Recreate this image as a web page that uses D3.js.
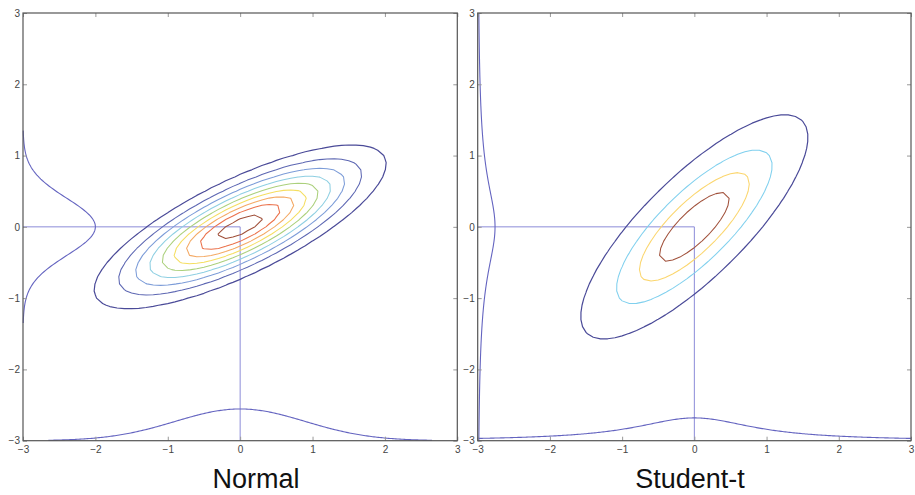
<!DOCTYPE html>
<html>
<head>
<meta charset="utf-8">
<script src="https://cdn.jsdelivr.net/npm/d3@7"></script>
<style>
  html, body { margin: 0; padding: 0; background: #fff; }
  svg { display: block; font-family: "Liberation Sans", Arial, Helvetica, sans-serif; }
</style>
</head>
<body>
<svg id="chart" width="915" height="495"></svg>
<script>
// Axis range and ticks shared by both panels
const axisDomain = [-3, 3];
const tickValues = [-3, -2, -1, 0, 1, 2, 3];
const panelTitles = ["Normal", "Student-t"];

// Bivariate Normal: covariance and contour levels (fraction of peak density)
const normalCov = [[0.9025, 0.395], [0.395, 0.2916]];
const normalLevels = [0.105, 0.21, 0.315, 0.42, 0.525, 0.63, 0.735, 0.84, 0.945];
const normalColors = ["#4a4a98", "#5c66b2", "#7c9cd8", "#8ecfe2", "#abd07c", "#f5de60", "#f4a964", "#eb724c", "#a0503a"];

// Bivariate Student-t: scale matrix, degrees of freedom, contour levels
const tCov = [[1.0, 0.8], [0.8, 1.0]];
const tDof = [2];
const tLevels = [0.2, 0.4, 0.6, 0.8];
const tColors = ["#4a4a98", "#80d0ee", "#fbd66e", "#a0503a"];

// Marginal curves: [shape, scale, peak height above the axis, start, end]
const normalMarginalX = ["gauss", 0.9, 0.445, -2.65, 2.65];
const normalMarginalY = ["gauss", 0.4, 1.0, -1.35, 1.35];
const tMarginalX = ["cauchy", 1.0, 0.32, -3, 3];
const tMarginalY = ["cauchy", 0.8, 0.24, -3, 3];

const gridStep = 0.1;

const svg = d3.select("#chart");

const panels = [
  { x0: 23, x1: 457.3, cov: normalCov, kind: "normal", levels: normalLevels, colors: normalColors,
    mx: normalMarginalX, my: normalMarginalY, title: panelTitles[0], titleX: 256 },
  { x0: 477.7, x1: 911, cov: tCov, kind: "t", levels: tLevels, colors: tColors,
    mx: tMarginalX, my: tMarginalY, title: panelTitles[1], titleX: 690 }
];
const yTop = 13, yBottom = 440.7;

function density(kind, cov, x, y) {
  const a = cov[0][0], b = cov[0][1], d = cov[1][1];
  const det = a * d - b * b;
  const q = (d * x * x - 2 * b * x * y + a * y * y) / det;
  if (kind === "normal") return Math.exp(-0.5 * q);
  const nu = tDof[0];
  return Math.pow(1 + q / nu, -(nu + 2) / 2);
}

function marginal(m, v) {
  const [shape, s, peak] = m;
  const z = v / s;
  return shape === "gauss" ? peak * Math.exp(-0.5 * z * z) : peak / (1 + z * z);
}

const fmt = d3.format("d");

panels.forEach(p => {
  const xs = d3.scaleLinear().domain(axisDomain).range([p.x0, p.x1]);
  const ys = d3.scaleLinear().domain(axisDomain).range([yBottom, yTop]);
  const g = svg.append("g");

  // guide lines from the axes to the mean
  g.append("path")
    .attr("d", d3.line()([[xs(-3), ys(0)], [xs(0), ys(0)], [xs(0), ys(-3)]]))
    .attr("fill", "none").attr("stroke", "#8c8cd8").attr("stroke-width", 1);

  // marginal densities along bottom and left axes
  const bx = d3.range(p.mx[3], p.mx[4] + 1e-9, 0.02).map(v => [v, -3 + marginal(p.mx, v)]);
  const ly = d3.range(p.my[3], p.my[4] + 1e-9, 0.02).map(v => [-3 + marginal(p.my, v), v]);
  const line = d3.line().x(d => xs(d[0])).y(d => ys(d[1]));
  [bx, ly].forEach(pts => {
    g.append("path").attr("d", line(pts))
      .attr("fill", "none").attr("stroke", "#6464c0").attr("stroke-width", 1.1);
  });

  // density on a grid and its contours
  const n = Math.round((axisDomain[1] - axisDomain[0]) / gridStep) + 1;
  const values = new Array(n * n);
  for (let j = 0; j < n; j++) {
    for (let i = 0; i < n; i++) {
      const x = axisDomain[0] + i * gridStep, y = axisDomain[0] + j * gridStep;
      values[j * n + i] = density(p.kind, p.cov, x, y);
    }
  }
  const contours = d3.contours().size([n, n]).thresholds(p.levels)(values);
  const proj = d3.geoTransform({
    point(cx, cy) {
      this.stream.point(xs(axisDomain[0] + (cx - 0.5) * gridStep), ys(axisDomain[0] + (cy - 0.5) * gridStep));
    }
  });
  const path = d3.geoPath(proj);
  g.selectAll(".c").data(contours).join("path")
    .attr("d", path)
    .attr("fill", "none")
    .attr("stroke", (d, i) => p.colors[i])
    .attr("stroke-width", (d, i) => i === 0 ? 1.2 : 1.05)
    .attr("stroke-linejoin", "round");

  // axes: ticks pointing inward on every side, labels on bottom and left
  const axStyle = sel => {
    sel.select(".domain").remove();
    sel.selectAll(".tick line").attr("stroke", "#999");
    sel.selectAll(".tick text").attr("fill", "#444").style("font-size", "10px");
  };
  g.append("g").attr("transform", `translate(0,${yBottom})`)
    .call(d3.axisBottom(xs).tickValues(tickValues).tickFormat(fmt).tickSize(-4).tickPadding(5))
    .call(axStyle);
  g.append("g").attr("transform", `translate(0,${yTop})`)
    .call(d3.axisTop(xs).tickValues(tickValues).tickSize(-4).tickFormat(""))
    .call(axStyle);
  g.append("g").attr("transform", `translate(${p.x0},0)`)
    .call(d3.axisLeft(ys).tickValues(tickValues).tickFormat(fmt).tickSize(-4).tickPadding(3))
    .call(axStyle);
  g.append("g").attr("transform", `translate(${p.x1},0)`)
    .call(d3.axisRight(ys).tickValues(tickValues).tickSize(-4).tickFormat(""))
    .call(axStyle);
  g.selectAll("g.tick text").attr("font-family", null);

  // frame
  g.append("rect")
    .attr("x", p.x0).attr("y", yTop)
    .attr("width", p.x1 - p.x0).attr("height", yBottom - yTop)
    .attr("fill", "none").attr("stroke", "#555").attr("stroke-width", 1.2);

  // panel title
  svg.append("text")
    .attr("x", p.titleX).attr("y", 488)
    .attr("text-anchor", "middle")
    .style("font-size", "27px")
    .attr("fill", "#111")
    .text(p.title);
});
</script>
</body>
</html>
